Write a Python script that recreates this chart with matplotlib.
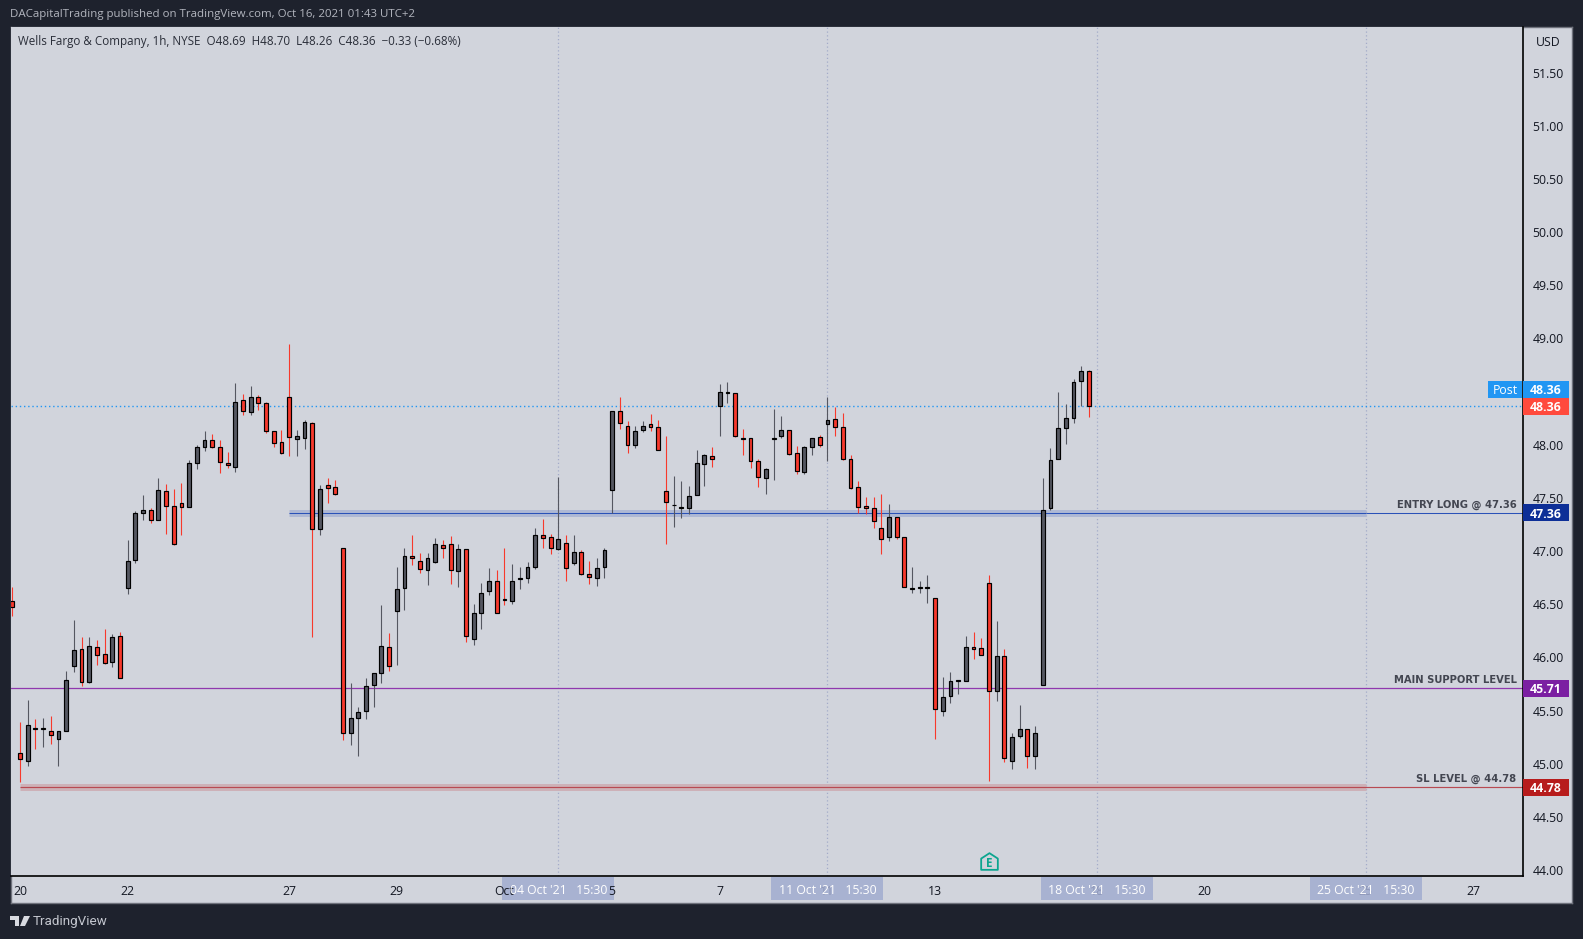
import numpy as np
import matplotlib
matplotlib.use("Agg")
import matplotlib.pyplot as plt
from matplotlib.patches import Rectangle, Polygon
from matplotlib.path import Path

# hourly candles (index 0 = last bar of Sep 17)
opens = [46.53, 45.10, 45.03, 45.34, 45.33, 45.31, 45.23, 45.31, 45.92, 46.08, 45.77, 46.10, 46.03, 45.96, 46.20,
         46.65, 46.92, 47.36, 47.39, 47.29, 47.56, 47.42, 47.45, 47.41, 47.83, 47.98, 48.04, 47.98, 47.83, 47.79,
         48.42, 48.31, 48.45, 48.39, 48.13, 48.03, 48.45, 48.05, 48.06, 48.20, 47.21, 47.62, 47.60, 47.03, 45.29,
         45.43, 45.50, 45.74, 45.85, 46.10, 46.44, 46.65, 46.95, 46.91, 46.82, 46.90, 47.06, 47.07, 46.81, 47.02,
         46.17, 46.42, 46.62, 46.72, 46.55, 46.53, 46.74, 46.75, 46.85, 47.15, 47.13, 47.02, 47.08, 46.89, 46.99,
         46.78, 46.75, 46.85, 47.57, 48.32, 48.18, 48.00, 48.14, 48.19, 48.17, 47.56, 47.43, 47.40, 47.40, 47.53,
         47.82, 47.89, 48.36, 48.49, 48.49, 48.06, 48.06, 47.85, 47.69, 48.05, 48.08, 48.14, 47.92, 47.74, 47.98,
         48.07, 48.19, 48.24, 48.17, 47.87, 47.60, 47.42, 47.40, 47.22, 47.13, 47.32, 47.13, 46.64, 46.65, 46.65,
         46.56, 45.50, 45.64, 45.78, 45.78, 46.10, 46.09, 46.70, 45.68, 46.01, 45.03, 45.26, 45.33, 45.07, 45.74,
         47.40, 47.87, 48.16, 48.25, 48.60, 48.69]
highs = [46.66, 45.39, 45.60, 45.42, 45.43, 45.45, 45.31, 45.87, 46.35, 46.19, 46.19, 46.16, 46.27, 46.22, 46.24,
         47.10, 47.38, 47.53, 47.40, 47.69, 47.63, 47.58, 47.64, 47.86, 48.00, 48.13, 48.10, 48.04, 47.93, 48.58,
         48.48, 48.55, 48.47, 48.40, 48.13, 48.14, 48.95, 48.14, 48.23, 48.21, 47.62, 47.69, 47.67, 47.03, 45.76,
         45.53, 45.81, 45.85, 46.49, 46.23, 46.85, 47.03, 47.15, 46.98, 46.98, 47.12, 47.10, 47.14, 47.07, 47.02,
         46.50, 46.70, 46.84, 46.82, 47.03, 46.88, 46.85, 46.90, 47.22, 47.30, 47.16, 47.70, 47.15, 47.15, 47.01,
         46.91, 46.93, 47.03, 48.32, 48.45, 48.22, 48.18, 48.22, 48.29, 48.23, 48.08, 47.71, 47.66, 47.61, 47.95,
         47.91, 47.98, 48.57, 48.59, 48.49, 48.15, 48.06, 47.87, 47.78, 48.34, 48.27, 48.14, 47.99, 47.99, 48.06,
         48.09, 48.45, 48.35, 48.30, 47.90, 47.66, 47.51, 47.51, 47.54, 47.44, 47.32, 47.13, 46.85, 46.72, 46.77,
         46.56, 45.82, 45.86, 45.79, 46.20, 46.24, 46.18, 46.77, 46.34, 46.08, 45.29, 45.55, 45.33, 45.35, 47.69,
         47.97, 48.50, 48.38, 48.62, 48.74, 48.70]
lows = [46.39, 44.83, 44.98, 45.14, 45.16, 45.19, 44.98, 45.31, 45.86, 45.73, 45.76, 45.93, 45.94, 45.91, 45.81,
        46.60, 46.89, 47.29, 47.26, 47.29, 47.16, 47.06, 47.15, 47.41, 47.77, 47.94, 47.97, 47.73, 47.78, 47.74,
        48.28, 48.28, 48.33, 48.11, 47.98, 47.91, 47.89, 47.89, 47.96, 46.19, 47.15, 47.45, 47.53, 45.22, 45.18,
        45.07, 45.42, 45.53, 45.76, 45.87, 45.93, 46.45, 46.87, 46.79, 46.68, 46.89, 46.93, 46.69, 46.66, 46.14,
        46.12, 46.27, 46.59, 46.42, 46.49, 46.50, 46.64, 46.70, 46.83, 47.03, 46.97, 47.01, 46.72, 46.87, 46.77,
        46.69, 46.67, 46.75, 47.36, 48.15, 47.92, 47.97, 48.12, 48.13, 47.95, 47.07, 47.23, 47.31, 47.35, 47.53,
        47.61, 47.79, 48.08, 48.39, 48.07, 47.90, 47.78, 47.60, 47.54, 47.67, 48.06, 47.90, 47.72, 47.72, 47.90,
        47.98, 47.85, 48.08, 47.86, 47.58, 47.36, 47.35, 47.22, 46.97, 47.09, 47.11, 46.66, 46.61, 46.61, 46.51,
        45.23, 45.45, 45.57, 45.66, 45.78, 45.98, 46.02, 44.84, 45.59, 45.02, 44.95, 45.24, 44.96, 44.95, 45.74,
        47.39, 47.87, 48.01, 48.20, 48.36, 48.26]
closes = [46.47, 45.04, 45.36, 45.33, 45.34, 45.27, 45.31, 45.79, 46.07, 45.77, 46.11, 46.02, 45.95, 46.19, 45.81,
          46.91, 47.36, 47.39, 47.29, 47.57, 47.42, 47.07, 47.41, 47.83, 47.98, 48.04, 47.98, 47.84, 47.81, 48.40,
          48.32, 48.45, 48.39, 48.13, 48.02, 47.92, 48.07, 48.08, 48.21, 47.21, 47.58, 47.59, 47.54, 45.29, 45.43,
          45.49, 45.73, 45.85, 46.11, 45.92, 46.64, 46.95, 46.93, 46.83, 46.93, 47.07, 47.03, 46.82, 47.02, 46.20,
          46.42, 46.61, 46.72, 46.42, 46.54, 46.72, 46.75, 46.85, 47.15, 47.12, 47.03, 47.11, 46.84, 46.99, 46.78,
          46.76, 46.84, 47.01, 48.32, 48.20, 48.00, 48.13, 48.18, 48.17, 47.95, 47.46, 47.43, 47.41, 47.52, 47.83,
          47.90, 47.87, 48.50, 48.50, 48.08, 48.05, 47.85, 47.70, 47.77, 48.06, 48.14, 47.91, 47.75, 47.98, 48.06,
          48.00, 48.23, 48.17, 47.87, 47.59, 47.41, 47.40, 47.28, 47.11, 47.32, 47.13, 46.66, 46.65, 46.66, 46.66,
          45.51, 45.63, 45.78, 45.79, 46.10, 46.08, 46.02, 45.68, 46.01, 45.05, 45.25, 45.33, 45.07, 45.29, 47.39,
          47.86, 48.16, 48.25, 48.59, 48.69, 48.36]

price_ticks = [44.0, 44.5, 45.0, 45.5, 46.0, 46.5, 47.0, 47.5, 48.0, 48.5, 49.0, 49.5, 50.0, 50.5, 51.0, 51.5]
day_pos = [1, 15, 36, 50, 64, 78, 92, 106, 120, 141, 155, 176, 190]
day_labels = ["20", "22", "27", "29", "Oct", "5", "7", "11", "13", "18", "20", "25", "27"]
week_pos = [71, 106, 141, 176]
week_labels = ["04 Oct '21   15:30", "11 Oct '21   15:30", "18 Oct '21   15:30", "25 Oct '21   15:30"]

last_price = 48.36
entry = 47.36
support = 45.71
stop = 44.78
earnings_bar = 127
earnings_price = 44.085

W, H = 1583, 939
BG = "#1e222d"
PANE = "#d1d4dc"
UP = "#555761"
DOWN = "#f7392c"

plt.rcParams["font.family"] = ["Open Sans", "DejaVu Sans"]
fig = plt.figure(figsize=(W / 100, H / 100), dpi=100, facecolor=BG)

def px(x, y, w, h):
    # pixel box, measured from the top left, to figure fractions
    return [x / W, 1 - (y + h) / H, w / W, h / H]

frame = fig.add_axes(px(10.5, 27, 1561.5, 876))
frame.set_facecolor(PANE)
frame.set_xticks([])
frame.set_yticks([])
for s in frame.spines.values():
    s.set_color("#6f727c")
    s.set_linewidth(1)

ax = fig.add_axes(px(10.5, 27, 1512.5, 849))
ax.set_facecolor(PANE)
ax.set_axisbelow(False)
step = 7.69
ax.set_xlim((10.5 - 12.3) / step, (1523 - 12.3) / step)
ax.set_ylim(43.944, 51.928)
for name in ["top", "left"]:
    ax.spines[name].set_visible(False)
for name in ["right", "bottom"]:
    ax.spines[name].set_color("black")
    ax.spines[name].set_linewidth(1.2)

ax.yaxis.tick_right()
ax.set_yticks(price_ticks)
ax.set_yticklabels(["%.2f" % p for p in price_ticks], fontsize=8.8, color="#131722")
ax.tick_params(axis="y", length=0, pad=7)
ax.set_xticks(day_pos)
ax.set_xticklabels(day_labels, fontsize=8.8, color="#131722")
ax.tick_params(axis="x", length=0, pad=6.5)
# labels that sit right under a time tag barely show through it
for lab in ax.get_xticklabels():
    if lab.get_text() in ("11", "18", "25"):
        lab.set_color("#8e97b8")

# weekly grid lines and last price
for p in week_pos:
    ax.axvline(p, color="#a3abc9", lw=0.9, ls=(0, (1, 2)), zorder=1)
ax.axhline(last_price, color="#2196f3", lw=1, ls=(0, (1, 2)), zorder=1)

# levels
ax.hlines(entry, 36, 176, color="#aeb8d4", lw=5, zorder=1.2)
ax.hlines(stop, 1, 176, color="#cdb1b7", lw=5, zorder=1.2)
ax.axhline(support, color="#9038ae", lw=0.9, zorder=1.3)
ax.hlines(entry, 36, 176, color="#2a52b8", lw=0.75, zorder=1.3)
ax.hlines(entry, 176, ax.get_xlim()[1], color="#2a52b8", lw=0.75, zorder=1.3)
ax.hlines(stop, 1, ax.get_xlim()[1], color="#b84a52", lw=0.85, zorder=1.3)

# candles
o = np.array(opens)
c = np.array(closes)
idx = np.arange(len(o))
cols = np.where(c >= o, UP, DOWN)
ax.vlines(idx, lows, highs, colors=cols, lw=0.8, zorder=2)
ax.bar(idx, np.abs(c - o), bottom=np.minimum(o, c), width=0.5, color=cols, edgecolor="black",
       linewidth=0.85, zorder=3)

# earnings marker
house = Path([(-1, -1), (1, -1), (1, 0.35), (0, 1), (-1, 0.35), (-1, -1)], closed=True)
ax.plot([earnings_bar], [earnings_price], marker=house, ms=12, mfc=PANE, mec="#0ca58f", mew=1.3, ls="none", zorder=4)
ax.text(earnings_bar, earnings_price - 0.02, "E", color="#0ca58f", fontsize=8.5, fontweight="bold", ha="center",
        va="center", zorder=5)

# level captions
tr = ax.get_yaxis_transform()
def caption(txt, y_price):
    ax.annotate(txt, (1, y_price), xycoords=tr, xytext=(-6.5, 0), textcoords="offset pixels", ha="right",
                va="bottom", fontsize=7.2, fontweight="bold", family="DejaVu Sans", color="#434651", zorder=4)
caption("ENTRY LONG @ 47.36", entry + 0.03)
caption("MAIN SUPPORT LEVEL", support + 0.03)
caption("SL LEVEL @ 44.78", stop + 0.03)

# price tags on the scale
tag_w = 46 / 1512.5
tag_h = 17 * (51.928 - 43.944) / 849
def tag(y_price, txt, col):
    ax.add_patch(Rectangle((1, y_price - tag_h / 2), tag_w, tag_h, transform=tr, color=col, lw=0, clip_on=False,
                           zorder=5))
    ax.annotate(txt, (1 + tag_w / 2, y_price), xycoords=tr, ha="center", va="center_baseline", fontsize=8.8,
                fontweight="bold", color="white", zorder=6, annotation_clip=False)
post_y = last_price + tag_h
tag(post_y, "%.2f" % last_price, "#2196f3")
tag(last_price, "%.2f" % last_price, "#ff4a3d")
tag(entry, "%.2f" % entry, "#0d2f97")
tag(support, "%.2f" % support, "#7b1fa2")
tag(stop, "%.2f" % stop, "#b71c1c")
ax.add_patch(Rectangle((1 - 35 / 1512.5, post_y - tag_h / 2), 33.5 / 1512.5, tag_h, transform=tr, color="#2196f3",
                       lw=0, clip_on=False, zorder=5))
ax.annotate("Post", (1 - 18 / 1512.5, post_y), xycoords=tr, ha="center", va="center_baseline", fontsize=8.8,
            color="white", zorder=6)

# time tags under the axis, day labels stay on top of them
tt = ax.get_xaxis_transform()
for p, lab in zip(week_pos, week_labels):
    ax.add_patch(Rectangle((p - 7.28, -24 / 849), 14.56, 23 / 849, transform=tt, color="#a8b2d1", lw=0,
                           clip_on=False, zorder=2.2))
    ax.annotate(lab, (p, -14 / 849), xycoords=tt, ha="center", va="center", fontsize=8.8, color="white", zorder=6)

# header and footer
fig.text(10 / W, 1 - 15 / H, "DACapitalTrading published on TradingView.com, Oct 16, 2021 01:43 UTC+2",
         color="#b2b5be", fontsize=8.27, va="center", ha="left")
fig.text(18 / W, 1 - 42 / H, "Wells Fargo & Company, 1h, NYSE  O48.69  H48.70  L48.26  C48.36  \u22120.33 (\u22120.68%)",
         color="#2a2e39", fontsize=8.35, va="center", ha="left")
fig.text(1548 / W, 1 - 42 / H, "USD", color="#131722", fontsize=8.8, va="center", ha="center")
fig.text(33 / W, 1 - 921.5 / H, "TradingView", color="#c3c6ce", fontsize=9.7, family="Roboto", va="center", ha="left")

# logo
def logo(points):
    pts = [(x / W, 1 - y / H) for x, y in points]
    fig.add_artist(Polygon(pts, closed=True, transform=fig.transFigure, color="#d8dae0", lw=0))
logo([(10, 916), (19, 916), (19, 926), (15, 926), (15, 920), (10, 920)])
logo([(24, 916), (30, 916), (25, 926), (20, 926)])

fig.savefig("out.png", dpi=100, facecolor=BG)
